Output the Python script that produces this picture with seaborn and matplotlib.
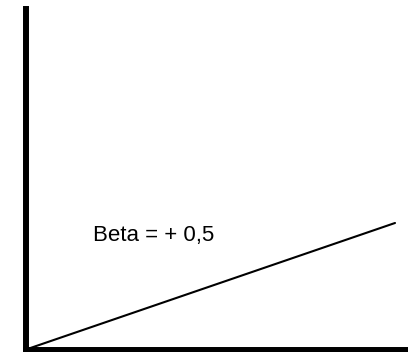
import matplotlib
matplotlib.use("Agg")
import matplotlib.pyplot as plt
import seaborn as sns
import pandas as pd

x_vals = [0, 10]
y_vals = [0, 5]
label = "Beta = + 0,5"

sns.set_style("white")
plt.rcParams['font.family'] = ['Liberation Sans', 'DejaVu Sans']

fig = plt.figure(figsize=(4.08, 3.52), dpi=100)
ax = fig.add_axes([26/408, 2.5/352, 1 - 26/408, 341/352])
df = pd.DataFrame({"x": x_vals, "y": y_vals})
sns.lineplot(data=df, x="x", y="y", ax=ax, color="black", linewidth=1.5)
ax.set_xlim(0, 10 / 0.966)
ax.set_ylim(0, 5 / 0.371)
ax.set_xticks([])
ax.set_yticks([])
ax.set_xlabel("")
ax.set_ylabel("")
for s in ["top", "right"]:
    ax.spines[s].set_visible(False)
for s in ["left", "bottom"]:
    ax.spines[s].set_linewidth(4.3)
    ax.spines[s].set_color("black")
ax.text(0.175, 0.318, label, transform=ax.transAxes, fontsize=16,
        va="baseline", ha="left", color="black")
fig.savefig("out.png", dpi=100)
